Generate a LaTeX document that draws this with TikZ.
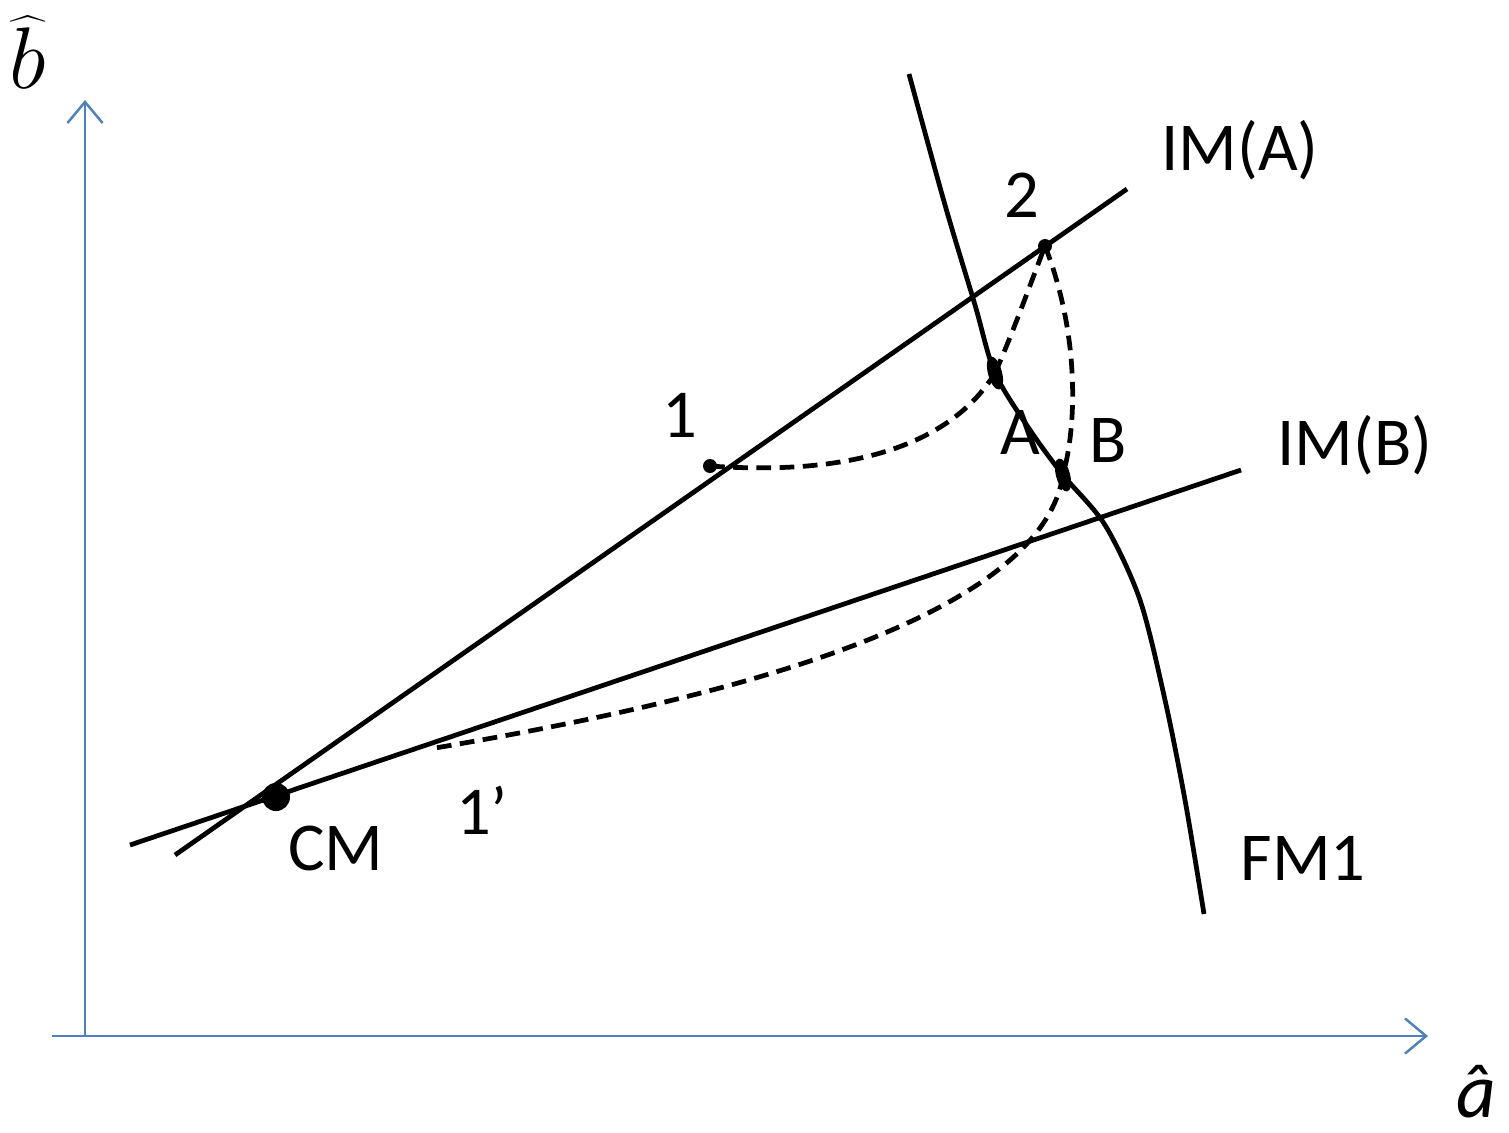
\documentclass[tikz,border=0pt]{standalone}
\usepackage{fontspec}
\setmainfont{Carlito}
\usepackage{tikz}
\usetikzlibrary{arrows.meta}
\definecolor{axisblue}{RGB}{79,129,189}
\tikzset{
    axis/.style={-{Straight Barb[length=6pt,width=10pt]}, line width=0.7pt, axisblue},
    locus/.style={line width=1.35pt, black},
    path/.style={line width=1.35pt, black, dash pattern=on 4.2pt off 2.4pt},
    lbl/.style={font=\fontsize{19.5}{23}\selectfont, inner sep=0pt}
}

\begin{document}
\begin{tikzpicture}[x=0.01cm, y=-0.01cm]
    \useasboundingbox (0,0) rectangle (1509,1132);
    % Axes
    \coordinate (O) at (85,1036);
    \coordinate (xs) at (52,1036);
    \coordinate (xe) at (1428,1036);
    \coordinate (ye) at (85,100);
    \draw[axis] (xs) -- (xe);
    \draw[axis] (O) -- (ye);
    \node[inner sep=0pt] (bhat) at (28,52) {\fontsize{26}{30}\selectfont$\widehat{b}$};
    \node[inner sep=0pt] (ahat) at (1476,1092) {\fontsize{22}{26}\selectfont\itshape \^{a}};

    % Isoclines IM(A), IM(B)
    \coordinate (imaS) at (175,855);
    \coordinate (imaE) at (1127,189);
    \coordinate (imbS) at (130,845);
    \coordinate (imbE) at (1241,470);
    \draw[locus] (imaS) -- (imaE);
    \draw[locus] (imbS) -- (imbE);
    \node[lbl] (ima) at (1240,150) {IM(A)};
    \node[lbl] (imb) at (1355,445) {IM(B)};

    % FM1
    \coordinate (A) at (995,373);
    \coordinate (B) at (1063,475);
    \draw[locus] plot[smooth, tension=0.5] coordinates {(909,74) (945,205) (975,305) (A) (1030,430) (B) (1105,525) (1140,600) (1165,700) (1185,800) (1204,914)};
    \node[lbl] (fm) at (1303,858) {FM1};

    % Points
    \coordinate (p1) at (710,466);
    \coordinate (p2) at (1045,246);
    \coordinate (p1b) at (435,748);
    \coordinate (cm) at (276,797);
    \fill (p1) circle[radius=0.07cm];
    \fill (p2) circle[radius=0.07cm];
    \fill (cm) circle[radius=0.14cm];
    \fill[rotate around={15:(A)}] (A) ellipse[x radius=0.07cm, y radius=0.17cm];
    \fill[rotate around={15:(B)}] (B) ellipse[x radius=0.07cm, y radius=0.17cm];

    % Dashed paths
    \draw[path] (p1) .. controls (880,478) and (960,430) .. (A);
    \draw[path] (A) .. controls (1012,335) and (1030,285) .. (p2);
    \draw[path] (p2) .. controls (1078,330) and (1078,420) .. (B);
    \draw[path] (B) .. controls (1040,620) and (720,700) .. (p1b);

    % Labels
    \node[lbl] (l1) at (680,415) {1};
    \node[lbl] (l2) at (1022,195) {2};
    \node[lbl] (lA) at (1020,432) {A};
    \node[lbl] (lB) at (1108,440) {B};
    \node[lbl] (l1b) at (482,810) {1’};
    \node[lbl] (lcm) at (336,848) {CM};
\end{tikzpicture}
\end{document}
